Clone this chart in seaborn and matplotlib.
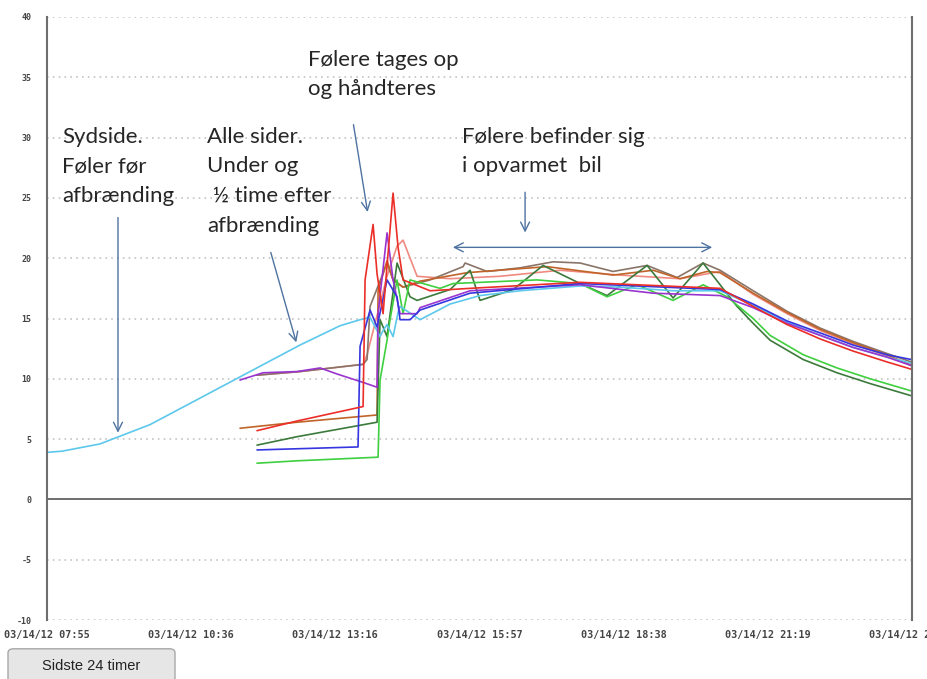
import numpy as np
import pandas as pd
import seaborn as sns
import matplotlib.pyplot as plt
from matplotlib.patches import FancyBboxPatch

# time of day in decimal hours, temperature in degrees C
sydside_t = [7.917, 8.2, 8.903, 9.834, 10.765, 11.696, 12.626, 13.371, 13.744, 13.93, 14.06, 14.116,
             14.172, 14.246, 14.358, 14.451, 14.488, 14.861, 15.419, 15.977, 16.722, 17.839, 18.583,
             19.57, 20.444, 21.06, 21.69, 22.31, 22.92, 23.55, 24.0]
sydside_v = [3.9, 4.0, 4.6, 6.2, 8.4, 10.6, 12.8, 14.4, 14.9, 15.1, 14.0, 13.5,
             14.0, 14.5, 13.5, 15.5, 16.0, 14.9, 16.2, 16.9, 17.3, 17.7, 17.6,
             17.3, 17.3, 16.1, 14.7, 13.6, 12.6, 11.8, 11.3]

salmon_t = [11.826, 12.626, 13.8, 13.874, 14.246, 14.432, 14.544, 14.805, 15.419, 16.35, 17.466,
            18.583, 19.7, 20.444, 21.06, 21.69, 22.31, 22.92, 23.55, 24.0]
salmon_v = [10.3, 10.6, 11.2, 12.0, 18.5, 21.0, 21.5, 18.5, 18.3, 18.5, 19.0,
            18.6, 18.3, 18.9, 17.0, 15.4, 14.0, 12.9, 11.9, 11.2]

gray_t = [11.826, 12.626, 13.8, 13.874, 13.93, 14.246, 14.358, 14.544, 15.047, 15.661, 15.698,
          16.108, 16.722, 17.336, 17.839, 18.453, 19.086, 19.644, 20.128, 20.444, 21.06, 21.69,
          22.31, 22.92, 23.55, 24.0]
gray_v = [10.3, 10.6, 11.2, 11.6, 16.0, 19.6, 18.2, 17.6, 18.2, 19.3, 19.6,
          18.9, 19.2, 19.7, 19.6, 18.9, 19.4, 18.4, 19.6, 19.0, 17.3, 15.6,
          14.2, 13.1, 12.1, 11.4]

red_t = [11.826, 12.57, 13.8, 13.837, 13.986, 14.06, 14.172, 14.358, 14.451, 14.544, 15.047,
         15.791, 17.839, 20.444, 21.06, 21.69, 22.31, 22.92, 23.55, 24.0]
red_v = [5.7, 6.5, 7.7, 18.2, 22.8, 18.7, 15.4, 25.4, 20.9, 18.2, 17.3,
         17.5, 18.0, 17.5, 16.0, 14.5, 13.3, 12.3, 11.4, 10.8]

brown_t = [11.51, 12.57, 14.06, 14.079, 14.246, 14.358, 14.544, 14.861, 15.735, 17.225, 18.453,
           19.198, 19.7, 20.202, 20.444, 21.06, 21.69, 22.31, 22.92, 23.55, 24.0]
brown_v = [5.9, 6.4, 7.0, 17.3, 19.8, 18.2, 17.6, 18.1, 18.8, 19.3, 18.6,
           19.0, 18.3, 18.9, 18.8, 17.1, 15.5, 14.1, 13.0, 12.0, 11.1]

darkgreen_t = [11.826, 12.57, 14.06, 14.116, 14.246, 14.432, 14.674, 14.805, 15.419, 15.791,
               15.977, 16.592, 17.15, 17.839, 18.341, 19.086, 19.57, 20.128, 20.761, 21.06,
               21.375, 21.99, 22.62, 23.24, 24.0]
darkgreen_v = [4.5, 5.2, 6.4, 14.9, 13.5, 19.6, 16.8, 16.5, 17.4, 19.0,
               16.5, 17.4, 19.4, 17.9, 16.9, 19.4, 16.7, 19.6, 16.0, 14.6,
               13.2, 11.6, 10.5, 9.6, 8.6]

green_t = [11.826, 12.57, 14.079, 14.116, 14.246, 14.302, 14.432, 14.544, 14.674, 15.233, 15.475,
           17.038, 17.839, 18.341, 18.9, 19.57, 20.128, 20.575, 21.06, 21.375, 21.99, 22.62,
           23.24, 24.0]
green_v = [3.0, 3.2, 3.5, 9.9, 13.2, 14.9, 18.2, 15.4, 18.2, 17.5, 17.9,
           18.2, 17.9, 16.8, 17.8, 16.5, 17.8, 16.8, 15.0, 13.6, 12.0, 10.9,
           10.0, 9.0]

blue_t = [11.826, 13.706, 13.744, 13.93, 14.06, 14.246, 14.432, 14.488, 14.674, 14.861, 15.791,
          17.839, 20.444, 21.06, 21.69, 22.31, 22.92, 23.55, 24.0]
blue_v = [4.1, 4.35, 12.7, 15.7, 14.3, 18.2, 16.8, 14.9, 14.9, 15.7, 17.1,
          17.9, 17.4, 16.2, 14.8, 13.8, 12.8, 12.0, 11.6]

purple_t = [11.51, 11.937, 12.57, 13.0, 13.315, 13.8, 14.06, 14.079, 14.246, 14.358, 14.488,
            14.805, 14.861, 15.791, 17.839, 19.198, 20.444, 21.06, 21.69, 22.31, 22.92, 23.55, 24.0]
purple_v = [9.9, 10.5, 10.6, 10.9, 10.4, 9.7, 9.3, 15.4, 22.1, 18.2, 15.4,
            15.4, 15.9, 17.3, 17.8, 17.1, 16.9, 15.9, 14.6, 13.6, 12.6, 11.8, 11.1]

sensors = {
    "salmon": (salmon_t, salmon_v, "#f08a80"),
    "gray": (gray_t, gray_v, "#8a7468"),
    "brown": (brown_t, brown_v, "#c0642a"),
    "darkgreen": (darkgreen_t, darkgreen_v, "#3c7a3c"),
    "green": (green_t, green_v, "#3fcf3f"),
    "sydside": (sydside_t, sydside_v, "#5cc8ec"),
    "purple": (purple_t, purple_v, "#9a34d0"),
    "blue": (blue_t, blue_v, "#3636e0"),
    "red": (red_t, red_v, "#ec2e28"),
}

frames = [pd.DataFrame({"time": t, "temp": v, "sensor": name}) for name, (t, v, c) in sensors.items()]
df = pd.concat(frames, ignore_index=True)
palette = {name: c for name, (t, v, c) in sensors.items()}

tick_hours = [7.9167 + i * 161 / 60 for i in range(7)]
tick_labels = ["03/14/12 07:55", "03/14/12 10:36", "03/14/12 13:16", "03/14/12 15:57",
               "03/14/12 18:38", "03/14/12 21:19", "03/14/12 24:00"]
y_ticks = list(range(-10, 41, 5))

sns.set_style("white")
fig = plt.figure(figsize=(9.27, 6.79), dpi=100)
ax = fig.add_axes([47 / 927, 59 / 679, 865 / 927, 603 / 679])

sns.lineplot(data=df, x="time", y="temp", hue="sensor", hue_order=list(sensors),
             palette=palette, sort=False, estimator=None, linewidth=1.2,
             legend=False, ax=ax)

ax.set_xlim(tick_hours[0], tick_hours[-1])
ax.set_ylim(-10, 40)
ax.set_xlabel("")
ax.set_ylabel("")
ax.set_yticks(y_ticks)
ax.set_yticklabels([str(y) for y in y_ticks])
ax.set_xticks(tick_hours)
ax.set_xticklabels(tick_labels)
for y in y_ticks:
    if y != 0:
        ax.axhline(y, color="#c4c4c4", lw=1.2, ls=(0, (1, 2.5)), zorder=0)
ax.axhline(0, color="#555555", lw=1.2, zorder=1)
for s in ["top", "bottom"]:
    ax.spines[s].set_visible(False)
for s in ["left", "right"]:
    ax.spines[s].set_color("#6e6e6e")
    ax.spines[s].set_linewidth(1.5)
ax.tick_params(axis="y", direction="inout", length=10, width=1.2, color="#6e6e6e",
               labelsize=6, labelcolor="#444444", pad=6)
ax.tick_params(axis="x", direction="inout", length=10, width=1.2, color="#6e6e6e",
               labelsize=7.3, labelcolor="#444444", pad=2)
for lab in ax.get_xticklabels() + ax.get_yticklabels():
    lab.set_family("DejaVu Sans Mono")
    lab.set_fontweight("bold")

# annotations
txt = dict(fontsize=16, family=["Lato", "DejaVu Sans"], color="#262626",
           va="top", ha="left", linespacing=1.6)
arrow = dict(arrowstyle="->", color="#4e73a0", lw=1.0, mutation_scale=16)
ax.text(8.196, 30.9, "Sydside.\nFøler før\nafbrænding", **txt)
ax.text(10.895, 30.9, "Alle sider.\nUnder og\n ½ time efter\nafbrænding", **txt)
ax.text(12.775, 37.3, "Følere tages op\nog håndteres", **txt)
ax.text(15.64, 30.9, "Følere befinder sig\ni opvarmet  bil", **txt)
ax.annotate("", xy=(9.238, 5.3), xytext=(9.238, 23.6), arrowprops=arrow)
ax.annotate("", xy=(12.57, 12.8), xytext=(12.068, 20.7), arrowprops=arrow)
ax.annotate("", xy=(13.892, 23.6), xytext=(13.613, 31.3), arrowprops=arrow)
ax.annotate("", xy=(16.815, 21.9), xytext=(16.815, 25.7), arrowprops=arrow)
ax.annotate("", xy=(20.35, 20.9), xytext=(15.419, 20.9),
            arrowprops=dict(arrowstyle="<->", color="#4e73a0", lw=1.0, mutation_scale=16))

# button at the bottom
fig.add_artist(FancyBboxPatch((8 / 927, -0.01), 167 / 927, 37 / 679,
                              boxstyle="round,pad=0,rounding_size=0.006",
                              transform=fig.transFigure, facecolor="#e6e6e6",
                              edgecolor="#a8a8a8", lw=1.0))
fig.text(91 / 927, 13 / 679, "Sidste 24 timer", ha="center", va="center",
         fontsize=10.5, family="Liberation Sans", color="#222222")

fig.savefig("out.png", dpi=100)
